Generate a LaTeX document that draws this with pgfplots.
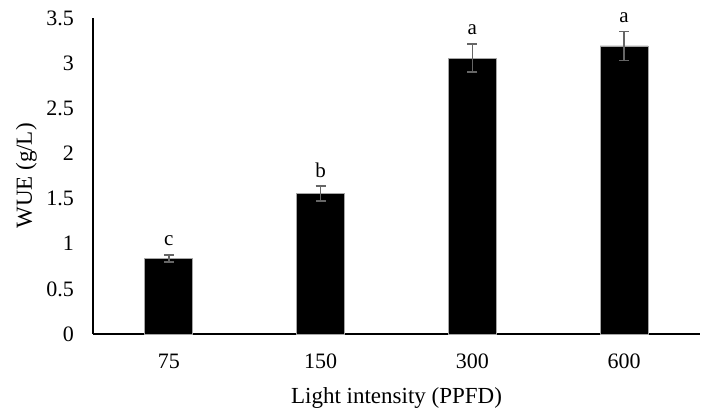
\documentclass[border=0pt]{standalone}
\usepackage{pgfplots}
\pgfplotsset{compat=1.18}
\usepackage{fontspec}
\setmainfont{Liberation Serif}
\begin{document}
\begin{tikzpicture}
\begin{axis}[
  name=ax,
  scale only axis,
  width=303.5pt, height=158pt,
  xmin=-0.5, xmax=3.5,
  ymin=0, ymax=3.5,
  ytick={0,0.5,...,3.5},
  yticklabels={0,0.5,1,1.5,2,2.5,3,3.5},
  xtick={0,1,2,3},
  xticklabels={75,150,300,600},
  axis x line=bottom, axis y line=left,
  axis line style={-, black, line width=1pt},
  major tick length=0pt,
  /pgf/number format/assume math mode=true,
  ticklabel style={font=\fontsize{11}{13}\selectfont},
  xticklabel style={yshift=-6.5pt},
  yticklabel style={xshift=-6pt},
  xlabel={Light intensity (PPFD)},
  ylabel={WUE (g/L)},
  label style={font=\fontsize{11.5}{13}\selectfont},
  xlabel style={at={(0.5,0)}, anchor=north, yshift=-23pt},
  ylabel style={at={(0,0.5)}, anchor=south, xshift=0pt, yshift=24.5pt},
  clip=false,
]
\addplot[ybar, bar width=24pt, fill=black, draw=gray!70, line width=0.4pt,
  error bars/.cd, y dir=both, y explicit,
  error bar style={color=black!60, line width=0.8pt},
  error mark options={rotate=90, mark size=2.5pt, line width=0.8pt, color=black!60}]
  coordinates {
  (0,0.837) +- (0,0.04)
  (1,1.556) +- (0,0.08)
  (2,3.056) +- (0,0.155)
  (3,3.19) +- (0,0.16)
  };
\addplot[draw=none, mark=none, nodes near coords, point meta=explicit symbolic,
  every node near coord/.append style={anchor=south, font=\fontsize{10.5}{12}\selectfont, yshift=1pt}]
  coordinates {
  (0,0.877) [c]
  (1,1.636) [b]
  (2,3.211) [a]
  (3,3.35) [a]
  };
\end{axis}
\pgfresetboundingbox
\path (ax.south west) ++(-46.5pt,-40pt) coordinate (bl);
\path (ax.north east) ++(1.5pt,9pt) coordinate (tr);
\path (bl) rectangle (tr);
\end{tikzpicture}
\end{document}
